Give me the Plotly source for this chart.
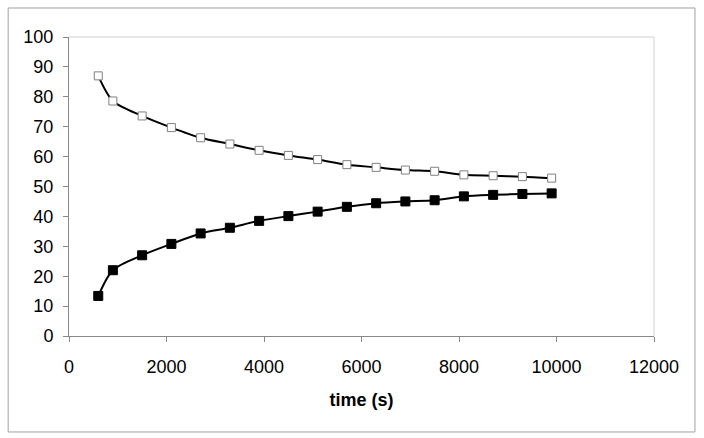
import plotly.graph_objects as go

# time points (s)
time_s = [600, 900, 1500, 2100, 2700, 3300, 3900, 4500, 5100,
          5700, 6300, 6900, 7500, 8100, 8700, 9300, 9900]

# upper curve (open squares)
upper = [87.0, 78.6, 73.6, 69.7, 66.3, 64.2, 62.1, 60.4, 59.0,
         57.3, 56.4, 55.5, 55.1, 53.9, 53.6, 53.3, 52.8]

# lower curve (filled squares)
lower = [13.4, 22.0, 27.0, 30.8, 34.3, 36.2, 38.5, 40.1, 41.6,
         43.2, 44.4, 45.0, 45.4, 46.7, 47.2, 47.5, 47.7]

fig = go.Figure()

fig.add_trace(go.Scatter(
    x=time_s, y=upper, mode="lines+markers",
    line=dict(color="black", width=2, shape="spline", smoothing=0.8),
    marker=dict(symbol="square", size=8, color="white",
                line=dict(color="#808080", width=1)),
))

fig.add_trace(go.Scatter(
    x=time_s, y=lower, mode="lines+markers",
    line=dict(color="black", width=2, shape="spline", smoothing=0.8),
    marker=dict(symbol="square", size=9, color="black",
                line=dict(color="black", width=1)),
))

axis_font = dict(family="Liberation Sans, Arial", size=18, color="black")

fig.update_xaxes(
    range=[0, 12000], dtick=2000, tickformat="d",
    showgrid=False, zeroline=False,
    showline=True, linecolor="#888888", linewidth=1,
    ticks="outside", ticklen=5, tickcolor="#888888",
    tickfont=axis_font, ticklabelstandoff=9,
    title=dict(text="<b>time (s)</b>",
               font=dict(family="Liberation Sans, Arial", size=18, color="black"),
               standoff=17),
)
fig.update_yaxes(
    range=[0, 100], dtick=10, showgrid=False, zeroline=False,
    showline=True, linecolor="#888888", linewidth=1,
    ticks="outside", ticklen=5, tickcolor="#888888",
    tickfont=axis_font, ticklabelstandoff=6,
)

fig.update_layout(
    width=704, height=438,
    margin=dict(l=69, r=50, t=37, b=102),
    paper_bgcolor="white", plot_bgcolor="white",
    showlegend=False,
    shapes=[
        # light frame on top/right of the plot area
        dict(type="line", xref="paper", yref="paper", x0=0, x1=1, y0=1, y1=1,
             line=dict(color="#d0d0d0", width=1)),
        dict(type="line", xref="paper", yref="paper", x0=1, x1=1, y0=0, y1=1,
             line=dict(color="#d0d0d0", width=1)),
        # outer chart border
        dict(type="rect", xref="paper", yref="paper",
             x0=-0.104, x1=1.070, y0=-0.321, y1=1.097,
             line=dict(color="#a0a0a0", width=1), layer="below"),
    ],
)

fig.write_html("out.html", config={"displayModeBar": False},
               post_script="document.body.style.margin='0';")
